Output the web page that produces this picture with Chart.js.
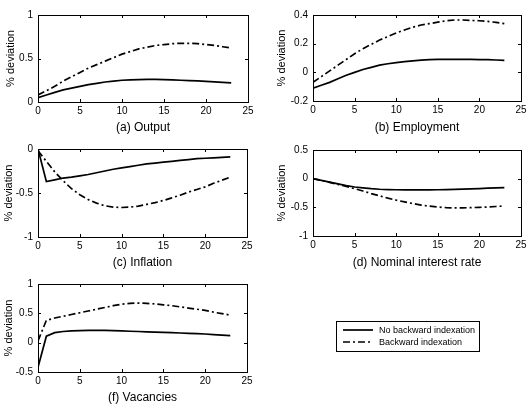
<!DOCTYPE html>
<html>
<head>
<meta charset="utf-8">
<script src="https://cdn.jsdelivr.net/npm/chart.js@4.4.0/dist/chart.umd.min.js"></script>
<style>
  body { margin: 0; background: #fff; width: 531px; height: 409px; position: relative; overflow: hidden; }
  canvas { position: absolute; }
</style>
</head>
<body>
<canvas id="panel-a"></canvas>
<canvas id="panel-b"></canvas>
<canvas id="panel-c"></canvas>
<canvas id="panel-d"></canvas>
<canvas id="panel-f"></canvas>
<script>
// Impulse responses, two model variants, quarters 0..23
const periods = [0,1,2,3,4,5,6,7,8,9,10,11,12,13,14,15,16,17,18,19,20,21,22,23];
const xTicks = [0, 5, 10, 15, 20, 25];
const seriesNames = ['No backward indexation', 'Backward indexation'];

const outputNoIdx = [0.05,0.08,0.11,0.14,0.16,0.18,0.20,0.215,0.23,0.24,0.25,0.255,0.258,0.26,0.26,0.258,0.255,0.25,0.246,0.242,0.237,0.232,0.226,0.22];
const outputIdx   = [0.08,0.13,0.18,0.24,0.29,0.34,0.39,0.43,0.47,0.51,0.55,0.58,0.61,0.63,0.65,0.66,0.67,0.675,0.675,0.67,0.66,0.65,0.635,0.62];
const outputTicks = [0, 0.5, 1];

const employmentNoIdx = [-0.11,-0.09,-0.07,-0.045,-0.02,0.0,0.02,0.035,0.05,0.06,0.068,0.075,0.08,0.085,0.088,0.09,0.09,0.09,0.09,0.09,0.089,0.088,0.086,0.084];
const employmentIdx   = [-0.07,-0.03,0.01,0.05,0.09,0.13,0.165,0.195,0.225,0.25,0.275,0.295,0.315,0.33,0.34,0.35,0.36,0.365,0.365,0.362,0.36,0.355,0.348,0.34];
const employmentTicks = [-0.2, 0, 0.2, 0.4];

const inflationNoIdx = [0,-0.37,-0.35,-0.33,-0.32,-0.305,-0.29,-0.27,-0.25,-0.23,-0.215,-0.2,-0.185,-0.17,-0.16,-0.15,-0.14,-0.13,-0.12,-0.11,-0.105,-0.1,-0.095,-0.09];
const inflationIdx   = [-0.02,-0.14,-0.26,-0.36,-0.45,-0.52,-0.575,-0.615,-0.645,-0.66,-0.665,-0.66,-0.65,-0.63,-0.61,-0.585,-0.555,-0.525,-0.49,-0.46,-0.43,-0.39,-0.355,-0.32];
const inflationTicks = [-1, -0.5, 0];

const interestNoIdx = [0,-0.03,-0.06,-0.09,-0.12,-0.145,-0.16,-0.175,-0.185,-0.19,-0.193,-0.195,-0.196,-0.196,-0.195,-0.193,-0.19,-0.187,-0.183,-0.178,-0.172,-0.166,-0.16,-0.155];
const interestIdx   = [0,-0.03,-0.065,-0.1,-0.135,-0.175,-0.215,-0.26,-0.3,-0.34,-0.375,-0.405,-0.435,-0.46,-0.48,-0.495,-0.505,-0.51,-0.51,-0.505,-0.5,-0.495,-0.485,-0.475];
const interestTicks = [-1, -0.5, 0, 0.5];

const vacancyNoIdx = [-0.42,0.11,0.17,0.19,0.2,0.205,0.21,0.21,0.208,0.205,0.2,0.195,0.19,0.185,0.18,0.175,0.17,0.165,0.16,0.155,0.148,0.138,0.13,0.12];
const vacancyIdx   = [0.03,0.38,0.42,0.45,0.48,0.51,0.54,0.57,0.6,0.63,0.655,0.67,0.675,0.67,0.66,0.645,0.63,0.61,0.59,0.57,0.55,0.52,0.495,0.47];
const vacancyTicks = [-0.5, 0, 0.5, 1];

const FONT = "'Liberation Sans', Arial, Helvetica, sans-serif";

// box round the plot with inward ticks on all four sides (matlab look)
const framePlugin = {
  id: 'frame',
  afterDatasetsDraw(chart) {
    const { ctx, chartArea: a, scales } = chart;
    const len = 3;
    ctx.save();
    ctx.strokeStyle = '#000';
    ctx.lineWidth = 1;
    ctx.setLineDash([]);
    ctx.strokeRect(Math.round(a.left) + 0.5, Math.round(a.top) + 0.5, Math.round(a.right - a.left), Math.round(a.bottom - a.top));
    ctx.beginPath();
    scales.x.ticks.forEach(t => {
      const px = Math.round(scales.x.getPixelForValue(t.value)) + 0.5;
      ctx.moveTo(px, a.bottom); ctx.lineTo(px, a.bottom - len);
      ctx.moveTo(px, a.top); ctx.lineTo(px, a.top + len);
    });
    scales.y.ticks.forEach(t => {
      const py = Math.round(scales.y.getPixelForValue(t.value)) + 0.5;
      ctx.moveTo(a.left, py); ctx.lineTo(a.left + len, py);
      ctx.moveTo(a.right, py); ctx.lineTo(a.right - len, py);
    });
    ctx.stroke();
    ctx.restore();
  }
};

// boxed legend, drawn from the chart's own datasets
const legendBoxPlugin = {
  id: 'legendBox',
  afterDraw(chart, args, opts) {
    if (!opts || !opts.box) return;
    const { ctx } = chart;
    const b = opts.box;
    ctx.save();
    ctx.strokeStyle = '#000';
    ctx.lineWidth = 1;
    ctx.setLineDash([]);
    ctx.strokeRect(b.x + 0.5, b.y + 0.5, b.w, b.h);
    ctx.font = opts.font;
    ctx.fillStyle = '#000';
    ctx.textBaseline = 'middle';
    chart.data.datasets.forEach((ds, i) => {
      const y = b.y + opts.rows[i];
      ctx.beginPath();
      ctx.lineWidth = ds.borderWidth;
      ctx.setLineDash(ds.borderDash || []);
      ctx.moveTo(b.x + opts.lineX, y);
      ctx.lineTo(b.x + opts.lineX + opts.lineW, y);
      ctx.stroke();
      ctx.setLineDash([]);
      ctx.fillText(ds.label, b.x + opts.textX, y + 0.5);
    });
    ctx.restore();
  }
};

function makePanel(p) {
  const canvas = document.getElementById(p.id);
  canvas.width = p.w;
  canvas.height = p.h;
  canvas.style.left = p.left + 'px';
  canvas.style.top = p.top + 'px';

  const line = (vals, i) => ({
    label: seriesNames[i],
    data: periods.map((x, k) => ({ x, y: vals[k] })),
    borderColor: '#000',
    borderWidth: 1.7,
    borderDash: i === 1 ? [7, 3, 2, 3] : [],
    pointRadius: 0,
    tension: 0,
    fill: false
  });

  return new Chart(canvas, {
    type: 'line',
    data: { datasets: [line(p.solid, 0), line(p.dash, 1)] },
    options: {
      responsive: false,
      animation: false,
      devicePixelRatio: 1,
      layout: { padding: { left: 0, top: p.padTop, right: p.padRight, bottom: 0 } },
      plugins: {
        legend: { display: false },
        tooltip: { enabled: false },
        legendBox: p.legend || {}
      },
      scales: {
        x: {
          type: 'linear', min: 0, max: 25,
          afterBuildTicks: s => { s.ticks = xTicks.map(v => ({ value: v })); },
          afterFit: s => { s.height = p.xH; },
          grid: { display: false, drawTicks: false },
          border: { display: false },
          ticks: { padding: 3, color: '#000', maxRotation: 0, autoSkip: false, font: { family: FONT, size: 10 } },
          title: { display: true, text: p.title, color: '#000', padding: { top: 0, bottom: 0 }, font: { family: FONT, size: 12 } }
        },
        y: {
          type: 'linear', min: p.yTicks[0], max: p.yTicks[p.yTicks.length - 1],
          afterBuildTicks: s => { s.ticks = p.yTicks.map(v => ({ value: v })); },
          afterFit: s => { s.width = p.yW; },
          grid: { display: false, drawTicks: false },
          border: { display: false },
          ticks: { padding: 5, color: '#000', autoSkip: false, font: { family: FONT, size: 10 }, callback: v => String(v) },
          title: { display: true, text: '% deviation', color: '#000', padding: { top: p.yTitlePad, bottom: 0 }, font: { family: FONT, size: 11 } }
        }
      }
    },
    plugins: [framePlugin, legendBoxPlugin]
  });
}

document.addEventListener('DOMContentLoaded', function () {
  makePanel({ id: 'panel-a', left: 0, top: 0, w: 262, h: 135, padTop: 15, padRight: 14, xH: 33, yW: 38, yTitlePad: 4,
    title: '(a) Output', solid: outputNoIdx, dash: outputIdx, yTicks: outputTicks });
  makePanel({ id: 'panel-b', left: 272, top: 0, w: 259, h: 135, padTop: 15, padRight: 10, xH: 34, yW: 41, yTitlePad: 3,
    title: '(b) Employment', solid: employmentNoIdx, dash: employmentIdx, yTicks: employmentTicks });
  makePanel({ id: 'panel-c', left: 0, top: 135, w: 262, h: 135, padTop: 14, padRight: 15, xH: 33, yW: 38, yTitlePad: 2,
    title: '(c) Inflation', solid: inflationNoIdx, dash: inflationIdx, yTicks: inflationTicks });
  makePanel({ id: 'panel-d', left: 272, top: 135, w: 259, h: 135, padTop: 15, padRight: 10, xH: 34, yW: 41, yTitlePad: 3,
    title: '(d) Nominal interest rate', solid: interestNoIdx, dash: interestIdx, yTicks: interestTicks });
  makePanel({ id: 'panel-f', left: 0, top: 270, w: 531, h: 135, padTop: 14, padRight: 284, xH: 33, yW: 38, yTitlePad: 2,
    title: '(f) Vacancies', solid: vacancyNoIdx, dash: vacancyIdx, yTicks: vacancyTicks,
    legend: { box: { x: 336, y: 51, w: 143, h: 30 }, rows: [9, 21], lineX: 7, lineW: 30, textX: 43,
      font: '9px ' + FONT } });
});
</script>
</body>
</html>
